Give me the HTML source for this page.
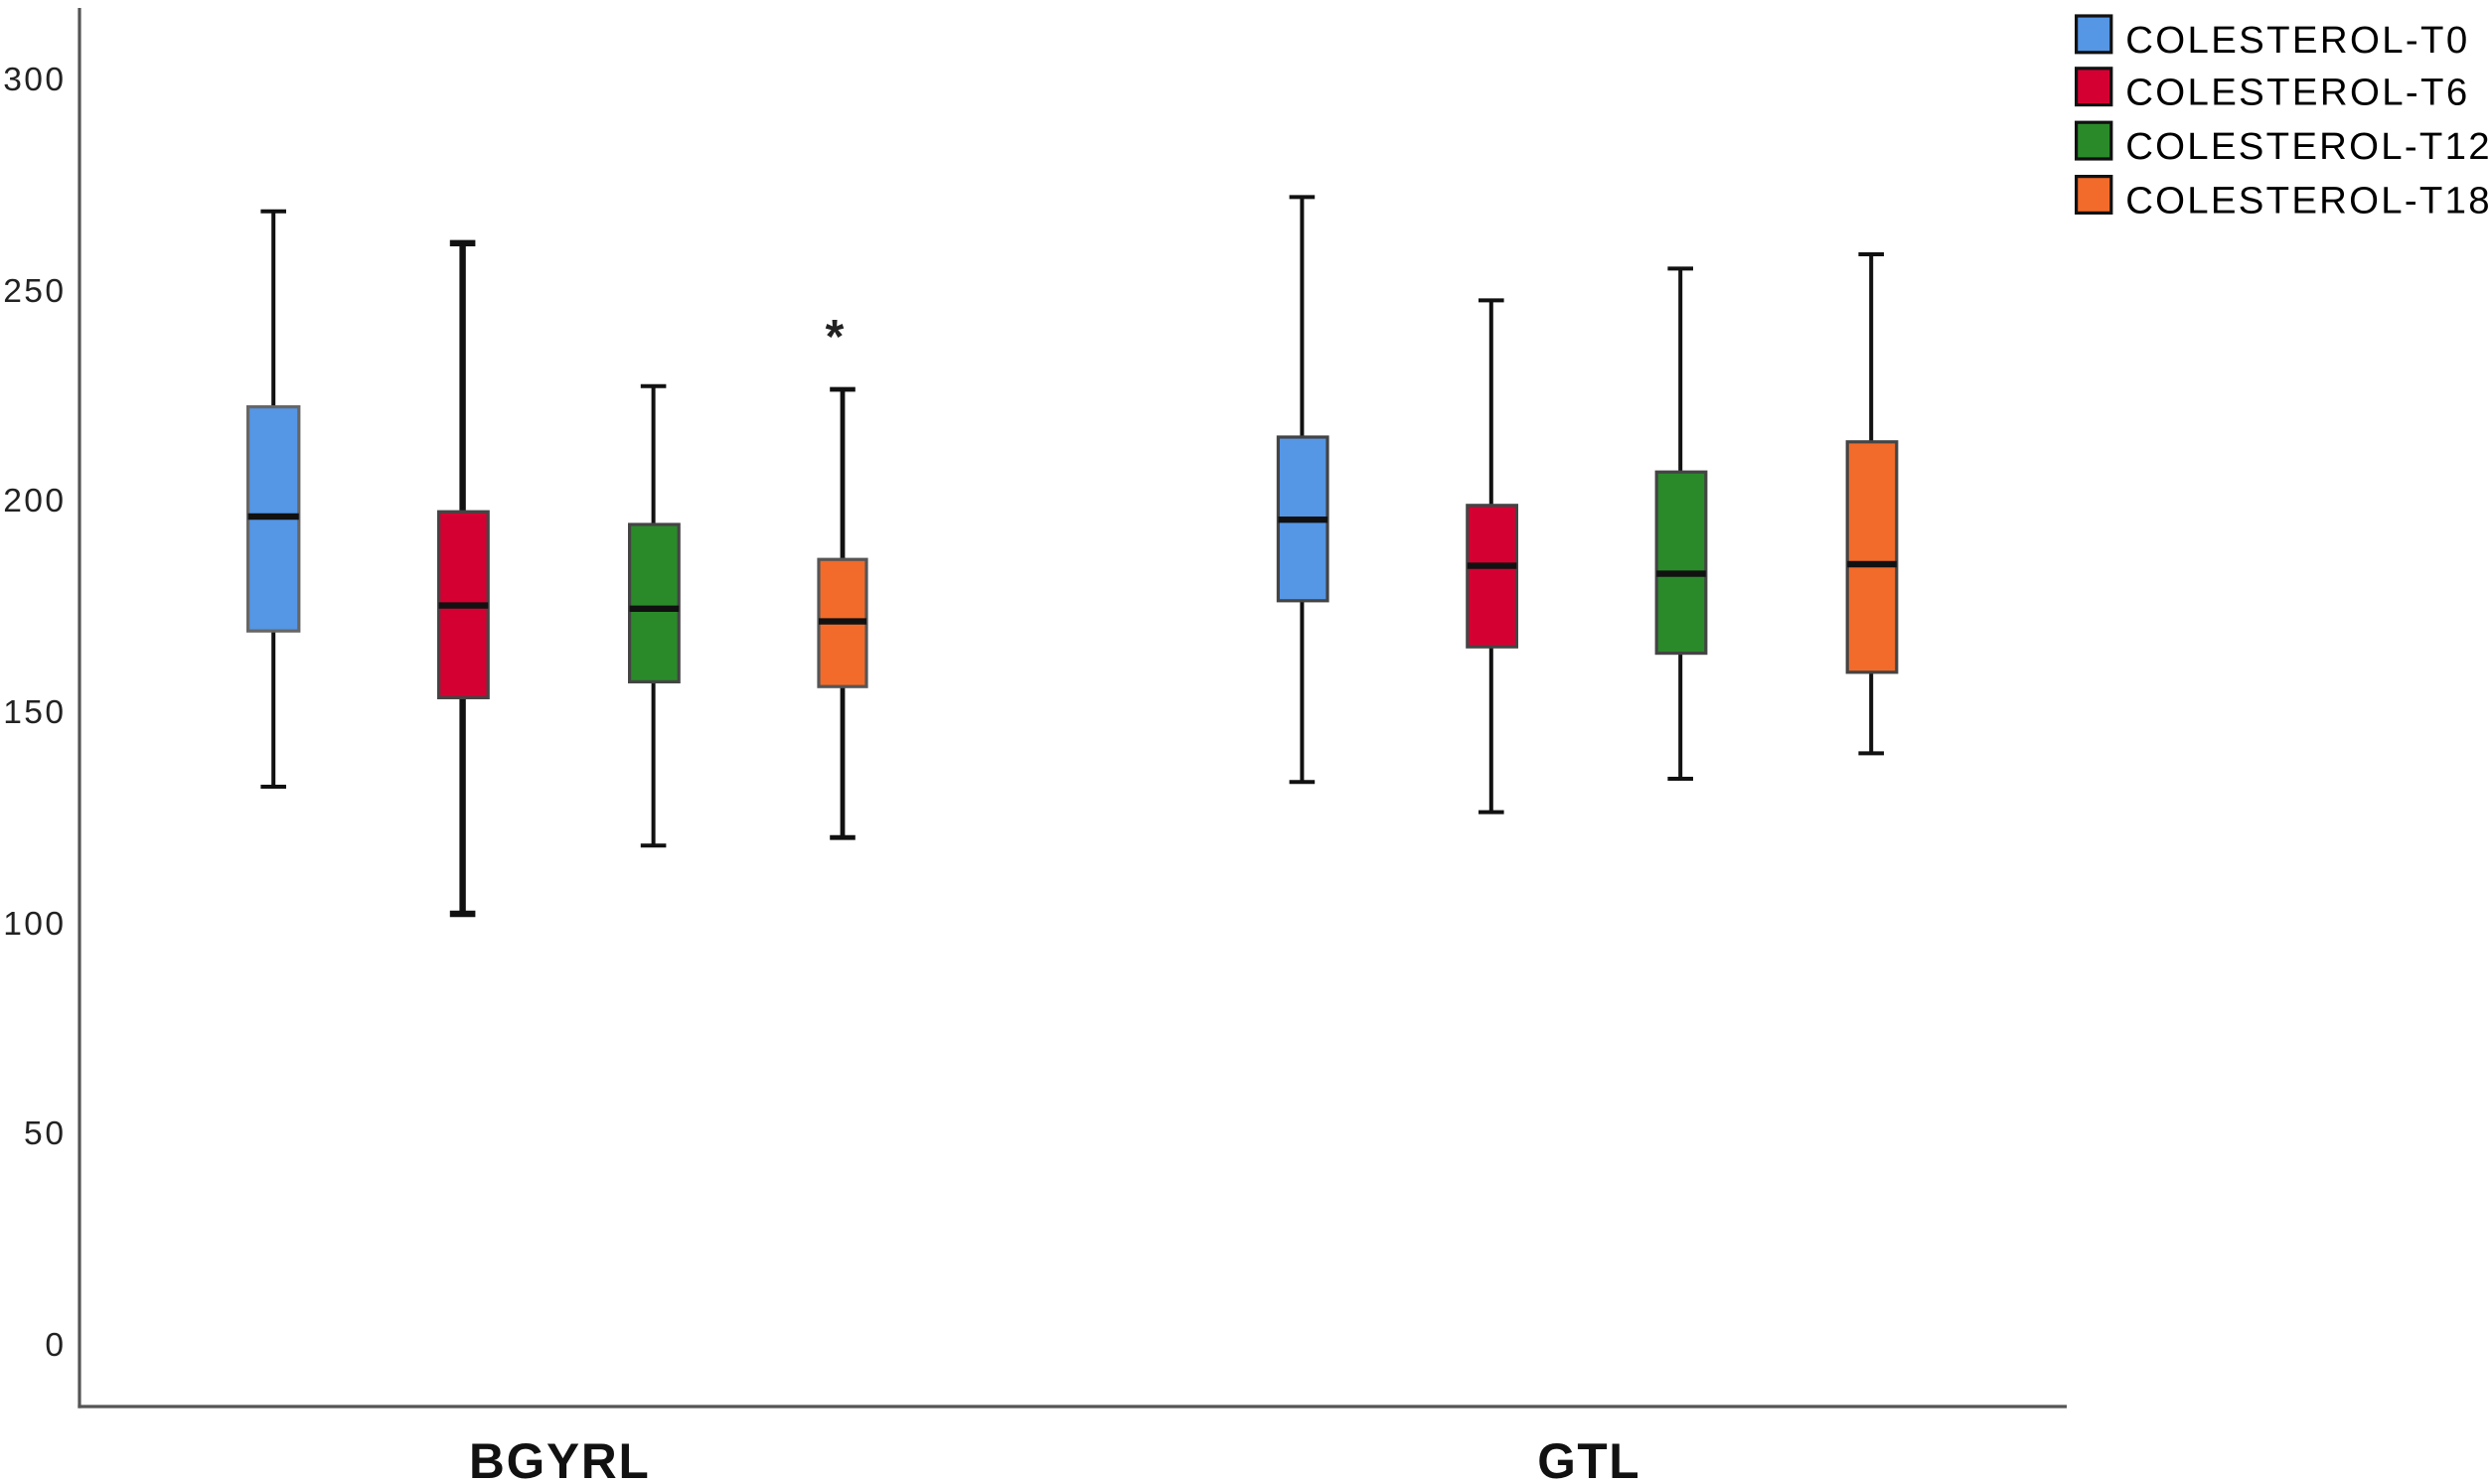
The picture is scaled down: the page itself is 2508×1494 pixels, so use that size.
<!DOCTYPE html>
<html><head><meta charset="utf-8"><style>html,body{margin:0;padding:0;background:#fff}svg{display:block}</style></head>
<body>
<svg width="2508" height="1494" viewBox="0 0 1567.5 933.75" xmlns="http://www.w3.org/2000/svg" font-family="Liberation Sans, sans-serif">
<rect width="1567.5" height="933.75" fill="#fff"/>
<line x1="50" y1="5" x2="50" y2="886" stroke="#555" stroke-width="2"/>
<line x1="49" y1="885" x2="1300" y2="885" stroke="#555" stroke-width="2"/>
<g font-size="21" text-anchor="end" fill="#222">
<text x="40" y="57" textLength="38">300</text><text x="40" y="190" textLength="38">250</text><text x="40" y="322" textLength="38">200</text>
<text x="40" y="455" textLength="38">150</text><text x="40" y="588" textLength="38">100</text><text x="40" y="720" textLength="25">50</text><text x="40" y="853">0</text>
</g>
<g font-size="31" font-weight="bold" fill="#111">
<text x="295" y="930" textLength="113">BGYRL</text><text x="967" y="930" textLength="64">GTL</text>
</g>
<g stroke="#111">
<g stroke-width="2.5"><line x1="172" y1="133" x2="172" y2="495"/><line x1="164" y1="133" x2="180" y2="133"/><line x1="164" y1="495" x2="180" y2="495"/></g>
<rect x="156" y="256" width="32" height="141" fill="#5596e5" stroke="#666" stroke-width="2"/>
<line x1="156" y1="325" x2="188" y2="325" stroke-width="4"/>
<g stroke-width="4"><line x1="291" y1="153" x2="291" y2="575"/><line x1="283" y1="153" x2="299" y2="153"/><line x1="283" y1="575" x2="299" y2="575"/></g>
<rect x="276" y="322" width="31" height="117" fill="#d50032" stroke="#444" stroke-width="2"/>
<line x1="276" y1="381" x2="307" y2="381" stroke-width="4"/>
<g stroke-width="2.5"><line x1="411" y1="243" x2="411" y2="532"/><line x1="403" y1="243" x2="419" y2="243"/><line x1="403" y1="532" x2="419" y2="532"/></g>
<rect x="396" y="330" width="31" height="99" fill="#2a8a2a" stroke="#444" stroke-width="2"/>
<line x1="396" y1="383" x2="427" y2="383" stroke-width="4"/>
<g stroke-width="3"><line x1="530" y1="245" x2="530" y2="527"/><line x1="522" y1="245" x2="538" y2="245"/><line x1="522" y1="527" x2="538" y2="527"/></g>
<rect x="515" y="352" width="30" height="80" fill="#f26b2a" stroke="#555" stroke-width="2"/>
<line x1="515" y1="391" x2="545" y2="391" stroke-width="4"/>
<g stroke-width="2.5"><line x1="819" y1="124" x2="819" y2="492"/><line x1="811" y1="124" x2="827" y2="124"/><line x1="811" y1="492" x2="827" y2="492"/></g>
<rect x="804" y="275" width="31" height="103" fill="#5596e5" stroke="#444" stroke-width="2"/>
<line x1="804" y1="327" x2="835" y2="327" stroke-width="4"/>
<g stroke-width="2.5"><line x1="938" y1="189" x2="938" y2="511"/><line x1="930" y1="189" x2="946" y2="189"/><line x1="930" y1="511" x2="946" y2="511"/></g>
<rect x="923" y="318" width="31" height="89" fill="#d50032" stroke="#444" stroke-width="2"/>
<line x1="923" y1="356" x2="954" y2="356" stroke-width="4"/>
<g stroke-width="2.5"><line x1="1057" y1="169" x2="1057" y2="490"/><line x1="1049" y1="169" x2="1065" y2="169"/><line x1="1049" y1="490" x2="1065" y2="490"/></g>
<rect x="1042" y="297" width="31" height="114" fill="#2a8a2a" stroke="#444" stroke-width="2"/>
<line x1="1042" y1="361" x2="1073" y2="361" stroke-width="4"/>
<g stroke-width="2.5"><line x1="1177" y1="160" x2="1177" y2="474"/><line x1="1169" y1="160" x2="1185" y2="160"/><line x1="1169" y1="474" x2="1185" y2="474"/></g>
<rect x="1162" y="278" width="31" height="145" fill="#f26b2a" stroke="#444" stroke-width="2"/>
<line x1="1162" y1="355" x2="1193" y2="355" stroke-width="4"/>
</g>
<text x="525" y="222" font-size="30" font-weight="bold" text-anchor="middle" fill="#222">*</text>
<g stroke="#111" stroke-width="2">
<rect x="1306" y="10" width="22" height="23" fill="#5596e5"/>
<rect x="1306" y="43" width="22" height="23" fill="#d50032"/>
<rect x="1306" y="77" width="22" height="23" fill="#2a8a2a"/>
<rect x="1306" y="111" width="22" height="23" fill="#f26b2a"/>
</g>
<g font-size="24" fill="#000">
<text x="1337" y="33" textLength="215">COLESTEROL-T0</text>
<text x="1337" y="66" textLength="215">COLESTEROL-T6</text>
<text x="1337" y="100" textLength="229">COLESTEROL-T12</text>
<text x="1337" y="134" textLength="229">COLESTEROL-T18</text>
</g>
</svg>
</body></html>
